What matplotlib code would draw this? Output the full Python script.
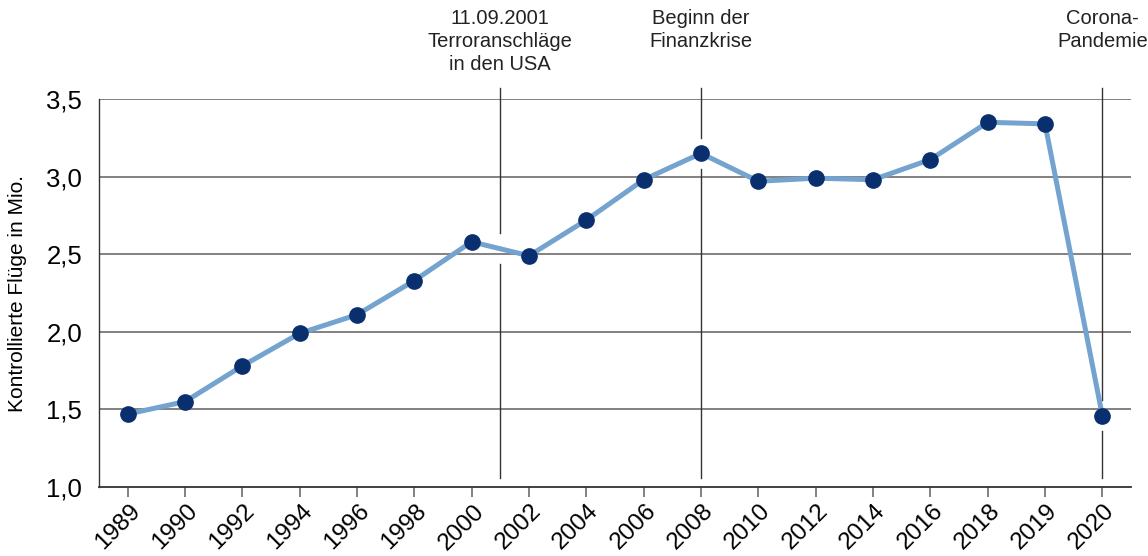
import numpy as np
import matplotlib
matplotlib.use("Agg")
import matplotlib.pyplot as plt
import matplotlib.transforms as mtransforms
from matplotlib.ticker import FuncFormatter

years = ["1989", "1990", "1992", "1994", "1996", "1998", "2000", "2002", "2004",
         "2006", "2008", "2010", "2012", "2014", "2016", "2018", "2019", "2020"]
flights = [1.47, 1.55, 1.78, 1.99, 2.11, 2.33, 2.58, 2.49, 2.72,
           2.98, 3.15, 2.97, 2.99, 2.98, 3.11, 3.35, 3.34, 1.46]

# events: position on the category axis + label
event_pos = [6.5, 10, 17]
event_labels = ["11.09.2001\nTerroranschläge\nin den USA",
                "Beginn der\nFinanzkrise",
                "Corona-\nPandemie"]

plt.rcParams['font.family'] = ['Liberation Sans', 'DejaVu Sans']
plt.rcParams['text.color'] = '#222222'

fig = plt.figure(figsize=(11.48, 5.56), dpi=100)
ax = fig.add_axes([0.0862, 0.1241, 0.8990, 0.6978])

x = np.arange(len(years))

for yv in [1.5, 2.0, 2.5, 3.0, 3.5]:
    ax.axhline(yv, color='#777777', lw=1.3, zorder=1)

# vertical event lines with a gap around the data line
gap = 0.1
for xp in event_pos:
    yv = np.interp(xp, x, flights)
    ax.plot([xp, xp], [3.57, yv + gap], color='#333333', lw=1.0, zorder=2, clip_on=False)
    ax.plot([xp, xp], [yv - gap, 1.055], color='#333333', lw=1.0, zorder=2)

ax.plot(x, flights, color='#74a3d0', lw=3.6, zorder=3,
        marker='o', markersize=11, markerfacecolor='#0a2f6e', markeredgecolor='#0a2f6e')

for xp, lab in zip(event_pos, event_labels):
    ax.annotate(lab, xy=(xp, 0.983), xycoords=('data', 'figure fraction'),
                ha='center', va='top', fontsize=14.5, linespacing=1.25)

ax.set_xlim(-0.5, 17.5)
ax.set_ylim(1.0, 3.5)
ax.set_yticks([1.0, 1.5, 2.0, 2.5, 3.0, 3.5])
ax.yaxis.set_major_formatter(FuncFormatter(lambda v, p: f"{v:.1f}".replace('.', ',')))
ax.set_xticks(x)
ax.set_xticklabels(years, rotation=45, ha='right', va='center', rotation_mode='anchor')

ax.tick_params(axis='y', length=0, labelsize=18.5, pad=12)
ax.tick_params(axis='x', length=7, width=1.3, color='#777777', labelsize=17.5, pad=8)

shift = mtransforms.ScaledTranslation(9 / 100, 0, fig.dpi_scale_trans)
for lbl in ax.get_xticklabels():
    lbl.set_transform(lbl.get_transform() + shift)

for s in ['top', 'right']:
    ax.spines[s].set_visible(False)
ax.spines['left'].set_color('#333333')
ax.spines['bottom'].set_color('#333333')
ax.spines['left'].set_linewidth(1.0)
ax.spines['bottom'].set_linewidth(1.3)

ax.set_ylabel("Kontrollierte Flüge in Mio.", fontsize=15, labelpad=14)

fig.savefig("out.png", dpi=100)
